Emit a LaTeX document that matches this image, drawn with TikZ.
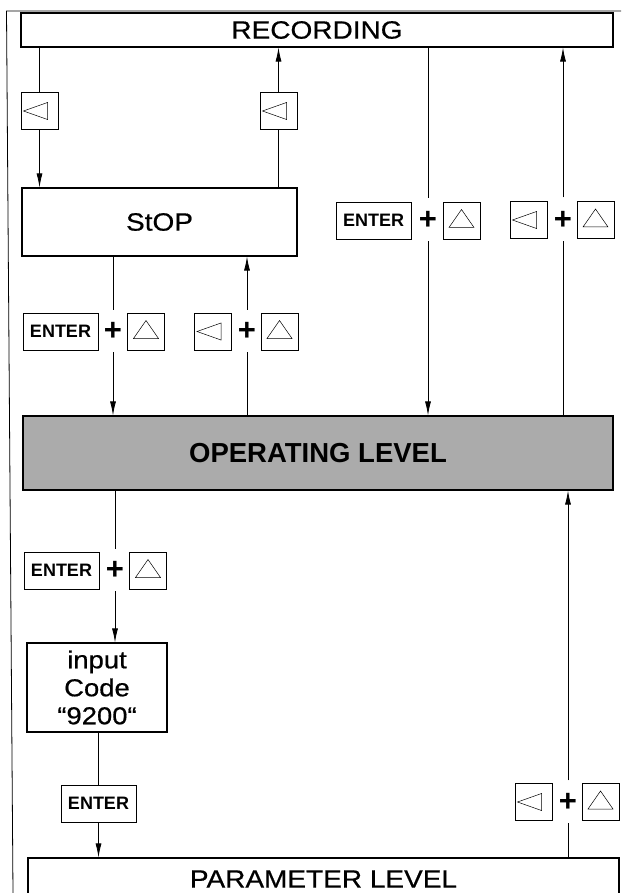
\documentclass[tikz,border=0pt]{standalone}
\usepackage{fontspec}
\setmainfont{Liberation Sans}
\newfontfamily\labelfont{Liberation Sans}[FakeStretch=1.12, FakeBold=0.6]
\newfontfamily\plainfont{Liberation Sans}
\usetikzlibrary{arrows.meta}
\begin{document}
\begin{tikzpicture}[x=1pt,y=-1pt,
  bigbox/.style={draw, line width=1.1pt, inner sep=0pt, font=\labelfont\fontsize{25}{28}\selectfont},
  keybox/.style={draw, line width=0.9pt, minimum width=37pt, minimum height=37pt, inner sep=0pt},
  lkey/.style={keybox, path picture={\draw[line width=0.5pt, shift={(path picture bounding box.center)}] (-16,0) -- (8,-8.5) -- (8,8.5) -- cycle;}},
  ukey/.style={keybox, path picture={\draw[line width=0.5pt, shift={(path picture bounding box.center)}] (0,-11) -- (12.5,7) -- (-12.5,7) -- cycle;}},
  enterbox/.style={keybox, minimum width=75pt, font=\plainfont\bfseries\fontsize{18}{20}\selectfont},
  plus/.style={inner sep=0pt, minimum height=37pt, font=\plainfont\bfseries\fontsize{31}{31}\selectfont},
  conn/.style={line width=0.8pt},
  arr/.style={conn, -{Latex[length=14pt,width=6pt]}}
]
\useasboundingbox (0,0) rectangle (621,893);
% outer frame
\draw[conn] (13,893) -- (6.5,11) -- (621,11);

% main boxes
\node[bigbox, minimum width=592pt, minimum height=34pt] (rec) at (317,30) {RECORDING};
\node[bigbox, minimum width=275pt, minimum height=68pt] (stop) at (159.5,222) {StOP};
\node[bigbox, fill=black!33, minimum width=590pt, minimum height=74pt, font=\plainfont\bfseries\fontsize{27.5}{30}\selectfont] (op) at (318,453) {OPERATING LEVEL};
\node[bigbox, minimum width=140pt, minimum height=89pt, align=center, font=\labelfont\fontsize{24.5}{28}\selectfont] (inp) at (97,687.5) {input\\Code\\“9200“};
\node[bigbox, minimum width=591pt, minimum height=42pt] (par) at (323.5,879) {PARAMETER LEVEL};

% keys RECORDING <-> StOP
\node[lkey] (k1) at (39.5,111) {};
\node[lkey] (k2) at (278.5,111) {};

% keys right top
\node[enterbox] (e1) at (373.5,220.5) {ENTER};
\node[plus] (p1) at (428,220.5) {+};
\node[ukey] (t1) at (461.5,220.5) {};
\node[lkey] (l2) at (528.5,220) {};
\node[plus] (p2) at (563,220) {+};
\node[ukey] (t2) at (595.5,220) {};

% keys StOP <-> OPERATING LEVEL
\node[enterbox] (e2) at (60.5,331.5) {ENTER};
\node[plus] (p3) at (113,331.5) {+};
\node[ukey] (t3) at (146,331.5) {};
\node[lkey] (l4) at (213,331.5) {};
\node[plus] (p4) at (247,331.5) {+};
\node[ukey] (t4) at (279.5,331.5) {};

% keys OPERATING LEVEL -> input
\node[enterbox] (e3) at (61.5,570.5) {ENTER};
\node[plus] (p5) at (115,570.5) {+};
\node[ukey] (t5) at (148,570.5) {};

% ENTER input -> PARAMETER
\node[enterbox] (e4) at (98.5,803.5) {ENTER};

% keys PARAMETER -> OPERATING
\node[lkey] (l6) at (533.5,802) {};
\node[plus] (p6) at (568,802) {+};
\node[ukey] (t6) at (600.5,802) {};

% connectors
\draw[conn] (rec.south -| k1.north) -- (k1.north);
\draw[arr] (k1.south) -- (k1.south |- stop.north);
\draw[conn] (stop.north -| k2.south) -- (k2.south);
\draw[arr] (k2.north) -- (k2.north |- rec.south);

\draw[conn, shorten >=4pt] (rec.south -| p1.north) -- (p1.north);
\draw[arr, shorten <=2pt] (p1.south) -- (p1.south |- op.north);
\draw[conn, shorten >=2pt] (op.north -| p2.south) -- (p2.south);
\draw[arr, shorten <=4pt] (p2.north) -- (p2.north |- rec.south);

\draw[conn, shorten >=3pt] (stop.south -| p3.north) -- (p3.north);
\draw[arr, shorten <=2pt] (p3.south) -- (p3.south |- op.north);
\draw[conn, shorten >=2pt] (op.north -| p4.south) -- (p4.south);
\draw[arr, shorten <=3pt] (p4.north) -- (p4.north |- stop.south);

\draw[conn, shorten >=3pt] (op.south -| p5.north) -- (p5.north);
\draw[arr, shorten <=2pt] (p5.south) -- (p5.south |- inp.north);

\draw[conn] (inp.south -| e4.north) -- (e4.north);
\draw[arr] (e4.south) -- (e4.south |- par.north);

\draw[conn, shorten >=2pt] (par.north -| p6.south) -- (p6.south);
\draw[arr, shorten <=3pt] (p6.north) -- (p6.north |- op.south);
\end{tikzpicture}
\end{document}
